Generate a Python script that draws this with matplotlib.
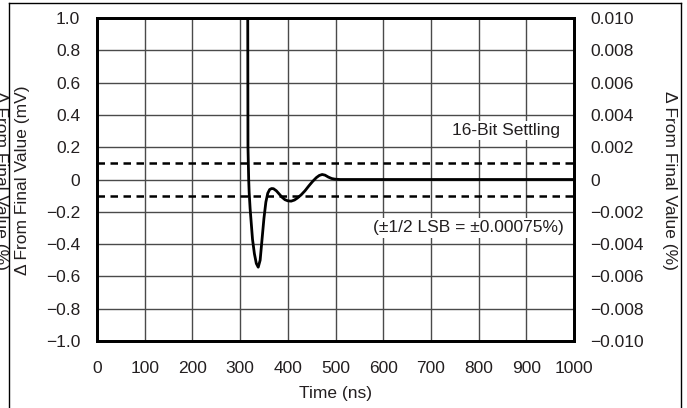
import matplotlib
matplotlib.use("Agg")
import matplotlib.pyplot as plt
from matplotlib.lines import Line2D

plt.rcParams['font.family'] = ['Liberation Sans', 'DejaVu Sans']

# Data
time_ns = [316, 316.5, 318, 319, 321, 326, 330, 334, 338, 342, 346, 350, 354, 358,
           362, 366, 370, 376, 382, 388, 394, 400, 407, 414, 420, 428, 436, 444,
           452, 460, 466, 472, 478, 485, 492, 499, 510, 1000]
delta_mv = [1.05, 0.2, 0.0, -0.08, -0.18, -0.37, -0.46, -0.52, -0.543, -0.50, -0.37,
            -0.24, -0.14, -0.085, -0.062, -0.056, -0.057, -0.07, -0.09, -0.11, -0.125,
            -0.132, -0.134, -0.127, -0.115, -0.095, -0.07, -0.04, -0.012, 0.012, 0.025,
            0.031, 0.027, 0.015, 0.006, 0.002, 0.0, 0.0]
settle_band = [0.1, -0.1]

x_ticks = [0, 100, 200, 300, 400, 500, 600, 700, 800, 900, 1000]
y_ticks = [-1.0, -0.8, -0.6, -0.4, -0.2, 0, 0.2, 0.4, 0.6, 0.8, 1.0]
y_labels = ['−1.0', '−0.8', '−0.6', '−0.4', '−0.2', '0', '0.2', '0.4', '0.6', '0.8', '1.0']
y2_ticks = [-0.010, -0.008, -0.006, -0.004, -0.002, 0, 0.002, 0.004, 0.006, 0.008, 0.010]
y2_labels = ['−0.010', '−0.008', '−0.006', '−0.004', '−0.002', '0', '0.002', '0.004',
             '0.006', '0.008', '0.010']

W, H = 687, 408
fig = plt.figure(figsize=(W / 100, H / 100), dpi=100)
ax = fig.add_axes([97 / W, 1 - 341 / H, (574 - 97) / W, (341 - 18) / H])

txt = '#231f20'
fs = 12.5

ax.set_xlim(0, 1000)
ax.set_ylim(-1.0, 1.0)
ax.set_xticks(x_ticks)
ax.set_xticklabels([str(v) for v in x_ticks])
ax.set_yticks(y_ticks)
ax.set_yticklabels(y_labels)
ax.tick_params(axis='both', length=0, labelsize=fs, colors=txt)
ax.tick_params(axis='y', pad=12)
ax.tick_params(axis='x', pad=14.5)
ax.grid(True, color='#4a4a4a', linewidth=1.0)
ax.set_axisbelow(True)
for s in ax.spines.values():
    s.set_linewidth(2.0)
    s.set_color('black')

for yv in settle_band:
    ax.axhline(yv, color='black', linewidth=1.8, linestyle=(0, (3, 2.2)), zorder=3)

ax.plot(time_ns, delta_mv, color='black', linewidth=2.0, zorder=4,
        solid_joinstyle='round')

bbox = dict(facecolor='white', edgecolor='none', pad=1.5)
ax.text(970, 0.305, '16-Bit Settling', ha='right', va='center', fontsize=fs,
        color=txt, bbox=bbox, zorder=5)
ax.text(979, -0.30, '(±1/2 LSB = ±0.00075%)', ha='right', va='center', fontsize=fs,
        color=txt, bbox=bbox, zorder=5)

ax.set_xlabel('Time (ns)', fontsize=fs, color=txt, labelpad=7)

ax2 = ax.twinx()
ax2.set_ylim(-0.010, 0.010)
ax2.set_yticks(y2_ticks)
ax2.set_yticklabels(y2_labels)
ax2.tick_params(axis='y', length=0, labelsize=fs, colors=txt, pad=11.5)
for s in ax2.spines.values():
    s.set_linewidth(2.0)

# Axis titles
fig.text(23 / W, 1 - 180 / H, 'Δ From Final Value (mV)', rotation=90, ha='center',
         va='center', fontsize=fs, color=txt)
fig.text(669 / W, 1 - 180 / H, 'Δ From Final Value (%)', rotation=270, ha='center',
         va='center', fontsize=fs, color=txt)
# Clipped duplicate label at far left
fig.text(0 / W, 1 - 180 / H, 'Δ From Final Value (%)', rotation=270, ha='center',
         va='center', fontsize=fs, color=txt)

# Figure border (left, top, right)
fig.add_artist(Line2D([9 / W, 9 / W], [0, 1 - 3 / H], transform=fig.transFigure,
                      color='black', linewidth=1.0))
fig.add_artist(Line2D([9 / W, 681 / W], [1 - 3 / H, 1 - 3 / H], transform=fig.transFigure,
                      color='black', linewidth=1.0))
fig.add_artist(Line2D([681 / W, 681 / W], [0, 1 - 3 / H], transform=fig.transFigure,
                      color='black', linewidth=1.0))

fig.savefig('out.png', dpi=100)
